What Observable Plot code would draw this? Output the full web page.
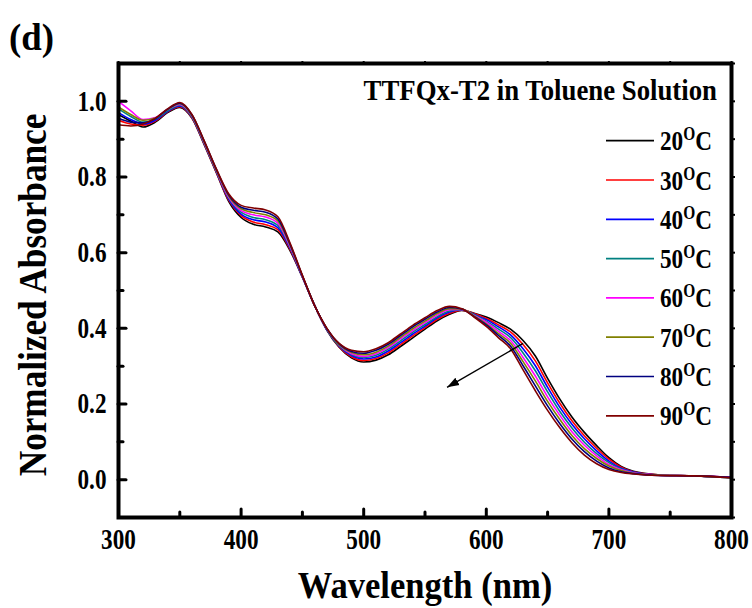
<!DOCTYPE html>
<html><head><meta charset="utf-8">
<script src="https://cdn.jsdelivr.net/npm/d3@7"></script>
<script src="https://cdn.jsdelivr.net/npm/@observablehq/plot@0.6"></script>
<style>
html,body{margin:0;padding:0;background:#fff}
#chart svg{display:block}
#chart svg text{font-family:"Liberation Serif",serif;font-weight:bold}
</style>
</head><body><div id="chart"></div>
<script>
// ---- data ----
const wavelengths = [300,310,320,330,340,350,360,370,380,390,400,410,420,430,440,450,460,470,480,490,500,510,520,530,540,550,560,570,580,590,600,610,620,630,640,650,660,670,680,690,700,710,720,740,770,800];
const temps = ["20","30","40","50","60","70","80","90"];
const colors = ["#000000","#ff0000","#0000ff","#008080","#ff00ff","#808000","#000080","#800000"];
const abs20 = [0.965,0.948,0.932,0.945,0.97,0.984,0.955,0.885,0.81,0.735,0.693,0.675,0.668,0.655,0.605,0.535,0.46,0.395,0.35,0.322,0.311,0.316,0.33,0.352,0.375,0.398,0.42,0.437,0.447,0.44,0.43,0.415,0.397,0.368,0.327,0.268,0.213,0.165,0.125,0.09,0.058,0.035,0.022,0.013,0.01,0.006];
const abs30 = [0.95,0.94,0.937,0.948,0.972,0.986,0.956,0.886,0.811,0.738,0.698,0.681,0.674,0.661,0.608,0.536,0.46,0.396,0.351,0.325,0.315,0.32,0.335,0.357,0.38,0.402,0.424,0.44,0.448,0.439,0.426,0.409,0.39,0.357,0.314,0.256,0.202,0.155,0.116,0.083,0.054,0.033,0.021,0.013,0.01,0.006];
const abs40 = [0.97,0.952,0.94,0.95,0.973,0.988,0.958,0.888,0.813,0.741,0.702,0.687,0.681,0.666,0.611,0.536,0.46,0.396,0.353,0.328,0.319,0.324,0.34,0.362,0.385,0.406,0.428,0.443,0.449,0.437,0.423,0.404,0.382,0.346,0.301,0.244,0.191,0.146,0.108,0.076,0.049,0.03,0.02,0.012,0.01,0.005];
const abs50 = [0.98,0.96,0.945,0.953,0.975,0.99,0.959,0.889,0.814,0.744,0.707,0.693,0.687,0.672,0.614,0.537,0.46,0.397,0.354,0.331,0.323,0.329,0.345,0.367,0.39,0.41,0.431,0.446,0.449,0.436,0.419,0.398,0.375,0.335,0.288,0.232,0.18,0.136,0.099,0.069,0.045,0.028,0.019,0.012,0.01,0.005];
const abs60 = [1.0,0.975,0.952,0.957,0.978,0.992,0.961,0.891,0.816,0.746,0.711,0.7,0.694,0.678,0.616,0.538,0.46,0.398,0.356,0.333,0.326,0.333,0.349,0.372,0.394,0.415,0.435,0.449,0.45,0.434,0.416,0.392,0.367,0.323,0.274,0.219,0.17,0.126,0.091,0.063,0.04,0.026,0.018,0.012,0.01,0.006];
const abs70 = [0.985,0.965,0.95,0.956,0.978,0.994,0.962,0.892,0.817,0.749,0.716,0.706,0.7,0.684,0.619,0.539,0.46,0.399,0.357,0.336,0.33,0.337,0.353,0.376,0.399,0.419,0.439,0.452,0.451,0.433,0.412,0.386,0.36,0.312,0.261,0.207,0.159,0.116,0.082,0.056,0.036,0.024,0.017,0.012,0.01,0.005];
const abs80 = [0.955,0.945,0.943,0.954,0.979,0.995,0.964,0.894,0.819,0.752,0.72,0.712,0.707,0.689,0.622,0.539,0.46,0.399,0.359,0.339,0.334,0.342,0.358,0.381,0.404,0.424,0.443,0.455,0.451,0.431,0.409,0.381,0.352,0.301,0.248,0.195,0.148,0.107,0.074,0.049,0.031,0.021,0.016,0.011,0.01,0.006];
const abs90 = [0.938,0.935,0.94,0.955,0.98,0.997,0.965,0.895,0.82,0.755,0.725,0.718,0.713,0.695,0.625,0.54,0.46,0.4,0.36,0.342,0.338,0.346,0.362,0.385,0.408,0.428,0.447,0.458,0.452,0.43,0.405,0.375,0.345,0.29,0.235,0.183,0.137,0.097,0.065,0.042,0.027,0.019,0.015,0.011,0.01,0.005];
const xMajor = [300,400,500,600,700,800];
const xMinor = [350,450,550,650,750];
const xAllTicks = [300,350,400,450,500,550,600,650,700,750,800];
const yMajor = [0.0,0.2,0.4,0.6,0.8,1.0];
const yMinor = [0.1,0.3,0.5,0.7,0.9];
const yAllTicks = [-0.1,0.0,0.1,0.2,0.3,0.4,0.5,0.6,0.7,0.8,0.9,1.0,1.1];
const arrowX1 = [630], arrowY1 = [0.36], arrowX2 = [568], arrowY2 = [0.244];
const panelTag = "(d)";
const xTitle = "Wavelength (nm)";
const yTitle = "Normalized Absorbance";
const legendTitle = "TTFQx-T2 in Toluene Solution";

// ---- build tidy table ----
const seriesList = [abs20,abs30,abs40,abs50,abs60,abs70,abs80,abs90];
const rows = [];
seriesList.forEach((s, k) => s.forEach((v, i) => rows.push({wl: wavelengths[i], a: v, t: temps[k]})));
const arrows = arrowX1.map((x, i) => ({x1: x, y1: arrowY1[i], x2: arrowX2[i], y2: arrowY2[i]}));

const W = 752, H = 608;
const font = "Liberation Serif";
const NS = "http://www.w3.org/2000/svg";

// filled triangular arrow head
const filledHead = (color, context) => {
  const doc = (context && context.document) || document;
  const m = doc.createElementNS(NS, "marker");
  m.setAttribute("viewBox", "-12 -6 12 12");
  m.setAttribute("markerWidth", 12);
  m.setAttribute("markerHeight", 12);
  m.setAttribute("markerUnits", "userSpaceOnUse");
  m.setAttribute("orient", "auto");
  m.setAttribute("refX", 0);
  m.setAttribute("refY", 0);
  const p = doc.createElementNS(NS, "path");
  p.setAttribute("d", "M-12,-4.2L0,0L-12,4.2Z");
  p.setAttribute("fill", color);
  p.setAttribute("stroke", "none");
  m.appendChild(p);
  return m;
};

function makeChart(arrowMark) {
  return Plot.plot({
    width: W, height: H,
    marginLeft: 118, marginRight: 21, marginTop: 63, marginBottom: 91,
    style: {fontFamily: font, fontWeight: "bold", background: "#fff", color: "#000"},
    x: {domain: [300, 800], label: null},
    y: {domain: [-0.1, 1.1], label: null},
    color: {domain: temps, range: colors},
    marks: [
      Plot.line(rows, {x: "wl", y: "a", z: "t", stroke: "t", strokeWidth: 1.6, curve: "monotone-x"}),
      arrowMark,
      Plot.axisX(xMajor, {anchor: "bottom", tickSize: -8, tickPadding: 19, fontSize: 29, strokeWidth: 3, strokeLinecap: "round", tickFormat: d => String(d)}),
      Plot.axisX(xMinor, {anchor: "bottom", tickSize: -5, strokeWidth: 3, strokeLinecap: "round", tickFormat: () => ""}),
      Plot.axisX(xAllTicks, {anchor: "top", tickSize: 3, strokeWidth: 2, tickFormat: () => ""}),
      Plot.axisY(yMajor, {anchor: "left", tickSize: -8, tickPadding: 20, fontSize: 29, strokeWidth: 3, strokeLinecap: "round", tickFormat: d => d.toFixed(1)}),
      Plot.axisY(yMinor, {anchor: "left", tickSize: -5, strokeWidth: 3, strokeLinecap: "round", tickFormat: () => ""}),
      Plot.axisY(yAllTicks, {anchor: "right", tickSize: 3, strokeWidth: 2, tickFormat: () => ""}),
      Plot.frame({stroke: "#000", strokeWidth: 4})
    ]
  });
}

let chart;
try {
  chart = makeChart(Plot.link(arrows, {x1: "x1", y1: "y1", x2: "x2", y2: "y2", stroke: "#000", strokeWidth: 1.4, markerEnd: filledHead}));
} catch (e) {
  chart = makeChart(Plot.arrow(arrows, {x1: "x1", y1: "y1", x2: "x2", y2: "y2", stroke: "#000", strokeWidth: 1.4, headLength: 10, headAngle: 50}));
}

document.getElementById("chart").appendChild(chart);
const svg = d3.select(chart);

// condense tick labels like the reference's narrow serif
svg.selectAll("g[aria-label='x-axis tick label'] text, g[aria-label='y-axis tick label'] text").each(function() {
  const t = this.getAttribute("transform") || "";
  this.setAttribute("transform", t + " scale(0.8,1)");
});

function addText(sel, str, attrs) {
  const t = sel.append("text").text(str)
    .attr("font-family", font).attr("font-weight", "bold").attr("fill", "#000");
  Object.entries(attrs).forEach(([k, v]) => t.attr(k, v));
  return t;
}

// panel tag
addText(svg, panelTag, {transform: "translate(9,50) scale(0.97,1)", "text-anchor": "start", "font-size": 38});
// x title
addText(svg, xTitle, {transform: "translate(425,598) scale(0.91,1)", "text-anchor": "middle", "font-size": 38});
// y title
addText(svg, yTitle, {transform: "translate(46,295) rotate(-90) scale(0.88,1)", "text-anchor": "middle", "font-size": 40});
// legend title
addText(svg, legendTitle, {transform: "translate(717,100) scale(0.94,1)", "text-anchor": "end", "font-size": 28.5});

// legend entries
const lg = svg.append("g");
temps.forEach((t, i) => {
  const yy = 140.7 + i * 39.3;
  lg.append("line").attr("x1", 606).attr("x2", 654).attr("y1", yy).attr("y2", yy)
    .attr("stroke", colors[i]).attr("stroke-width", 1.7);
  const tx = addText(lg, null, {transform: `translate(660,${yy + 9.5}) scale(0.86,1)`, "text-anchor": "start", "font-size": 27});
  tx.append("tspan").text(t);
  tx.append("tspan").text("O").attr("font-size", 18).attr("dy", -10);
  tx.append("tspan").text("C").attr("dy", 10);
});
</script>
</body></html>
